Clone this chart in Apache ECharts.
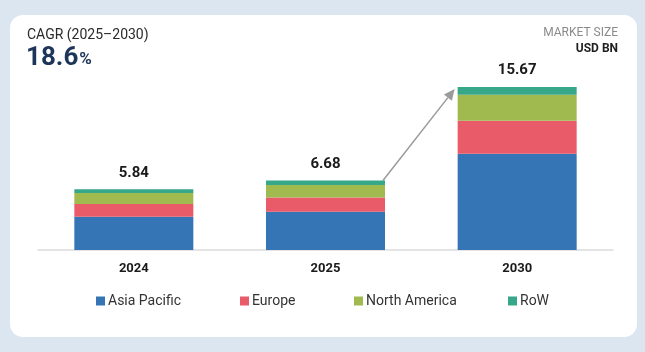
<!DOCTYPE html>
<html>
<head>
<meta charset="utf-8">
<script src="https://cdn.jsdelivr.net/npm/echarts@6/dist/echarts.min.js"></script>
<style>
  html, body { margin: 0; padding: 0; width: 645px; height: 352px; background: #dbe6f0; overflow: hidden; }
  .card { position: absolute; left: 10px; top: 15px; width: 627px; height: 322px; background: #fff; border-radius: 13px; }
  #chart { position: absolute; left: 0; top: 0; width: 645px; height: 352px; }
</style>
</head>
<body>
<div class="card"></div>
<div id="chart"></div>
<script>
// Market size, USD BN
const years = ['2024', '2025', '2030'];
const totals = [5.84, 6.68, 15.67];
const asiaPacific = [3.20, 3.68, 9.25];
const europe = [1.23, 1.37, 3.18];
const northAmerica = [1.06, 1.21, 2.50];
const row = [0.35, 0.42, 0.74];
const regions = ['Asia Pacific', 'Europe', 'North America', 'RoW'];
const cagr = '18.6';

const colors = ['#3575b6', '#ea5b69', '#a0ba50', '#37a78a'];
const legendLeft = [96, 240, 354, 508];
const font = 'Roboto, "Open Sans", sans-serif';

const chart = echarts.init(document.getElementById('chart'), null, { renderer: 'canvas' });

function stack(name, data, idx, last) {
  return {
    name,
    type: 'bar',
    stack: 'total',
    data,
    barWidth: 119,
    itemStyle: { color: colors[idx] },
    label: last ? {
      show: true,
      position: 'top',
      distance: 9,
      formatter: p => totals[p.dataIndex].toFixed(2),
      fontFamily: font,
      fontSize: 15,
      fontWeight: 'bold',
      color: '#1a1a1a'
    } : { show: false }
  };
}

const option = {
  animation: false,
  backgroundColor: 'transparent',
  textStyle: { fontFamily: font },
  title: [
    {
      left: 27, top: 28, padding: 0,
      text: 'CAGR (2025–2030)',
      textStyle: { fontFamily: font, fontSize: 14, fontWeight: 'normal', color: '#2a2a2a' }
    },
    {
      left: 26, top: 45, padding: 0,
      text: '{v|' + cagr + '}{p|%}',
      textStyle: {
        rich: {
          v: { fontFamily: font, fontSize: 26, fontWeight: 'bold', color: '#1d3559' },
          p: { fontFamily: font, fontSize: 17, fontWeight: 'bold', color: '#1d3559', padding: [4, 0, 0, 1] }
        }
      }
    },
    {
      right: 27, top: 27, padding: 0,
      text: 'MARKET SIZE',
      textStyle: { fontFamily: font, fontSize: 12, fontWeight: 'normal', color: '#8a8a8a' }
    },
    {
      right: 27, top: 43, padding: 0,
      text: 'USD BN',
      textStyle: { fontFamily: font, fontSize: 12, fontWeight: 'bold', color: '#1f1f1f' }
    }
  ],
  legend: regions.map((r, i) => ({
    left: legendLeft[i], top: 294, padding: 0,
    itemWidth: 9, itemHeight: 9,
    icon: 'rect',
    selectedMode: false,
    textStyle: { fontFamily: font, fontSize: 14, color: '#333', padding: [0, 0, 0, -2] },
    data: [r]
  })),
  grid: { left: 38, right: 32, top: 87, bottom: 102, containLabel: false },
  xAxis: {
    type: 'category',
    data: years,
    axisLine: { lineStyle: { color: '#dcdcdc', width: 1.5 } },
    axisTick: { show: false },
    axisLabel: { margin: 12, fontFamily: font, fontSize: 13, fontWeight: 'bold', color: '#1a1a1a' }
  },
  yAxis: {
    type: 'value', min: 0, max: 'dataMax',
    show: false, splitLine: { show: false }
  },
  series: [
    stack(regions[0], asiaPacific, 0, false),
    stack(regions[1], europe, 1, false),
    stack(regions[2], northAmerica, 2, false),
    stack(regions[3], row, 3, true)
  ]
};

chart.setOption(option);

// growth arrow from the 2025 bar top to the 2030 bar top
const half = 119 / 2;
const a = chart.convertToPixel({ xAxisIndex: 0, yAxisIndex: 0 }, [1, totals[1]]);
const b = chart.convertToPixel({ xAxisIndex: 0, yAxisIndex: 0 }, [2, totals[2]]);
const x1 = a[0] + half - 2, y1 = a[1];
const x2 = b[0] - half - 3, y2 = b[1] + 2;
const ang = Math.atan2(y2 - y1, x2 - x1);
const L = 11, W = 5;
const bx = x2 - L * Math.cos(ang), by = y2 - L * Math.sin(ang);
chart.setOption({
  graphic: [
    { type: 'line', shape: { x1, y1, x2: bx, y2: by }, style: { stroke: '#9a9a9a', lineWidth: 1.5 } },
    {
      type: 'polygon',
      shape: { points: [
        [x2, y2],
        [bx + W * Math.sin(ang), by - W * Math.cos(ang)],
        [bx - W * Math.sin(ang), by + W * Math.cos(ang)]
      ] },
      style: { fill: '#9a9a9a' }
    }
  ]
});
</script>
</body>
</html>
